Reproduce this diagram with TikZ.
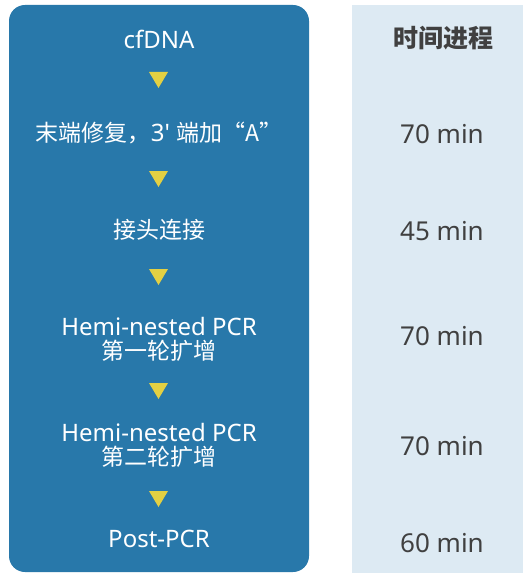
\documentclass[tikz,border=0pt]{standalone}
\usepackage{fontspec}
\setmainfont{Noto Sans}
\newfontfamily\cjk{Noto Sans CJK SC}
\definecolor{stepblue}{HTML}{2878AA}
\definecolor{panelblue}{HTML}{DDEAF3}
\definecolor{arrowyellow}{HTML}{E3D043}
\definecolor{timegray}{HTML}{404040}
\begin{document}
\begin{tikzpicture}[x=1bp,y=-1bp,
  stepbox/.style={text=white,font=\fontsize{24bp}{25bp}\selectfont,align=center,inner sep=0pt},
  cjkstep/.style={text=white,font=\fontsize{23bp}{25bp}\selectfont\cjk,align=center,inner sep=0pt},
  timebox/.style={text=timegray,font=\fontsize{26bp}{28bp}\selectfont,inner sep=0pt},
  headbox/.style={text=timegray,font=\fontsize{25bp}{28bp}\selectfont\cjk\bfseries,inner sep=0pt},
  tri/.style={fill=arrowyellow,draw=none}]
\useasboundingbox (0,0) rectangle (523,573);
\fill[stepblue,rounded corners=16bp] (9,5) rectangle (309,572);
\fill[panelblue] (352,5) rectangle (523,573);
% steps
\node[stepbox] (s1) at (159,39) {cfDNA};
\node[stepbox] (s2) at (159,133) {{\cjk\fontsize{23bp}{25bp}\selectfont 末端修复，}3\textquotesingle{} {\cjk\fontsize{23bp}{25bp}\selectfont 端加“A”}};
\node[cjkstep] (s3) at (159,230) {接头连接};
\node[stepbox] (s4a) at (159,326) {Hemi-nested PCR};
\node[cjkstep] (s4b) at (159,351) {第一轮扩增};
\node[stepbox] (s5a) at (159,432) {Hemi-nested PCR};
\node[cjkstep] (s5b) at (159,457) {第二轮扩增};
\node[stepbox] (s6) at (159,539) {Post-PCR};
% arrows
\foreach \c in {80,179,277,391,499}{
  \fill[tri] (149,\c-8) -- (168,\c-8) -- (158.5,\c+8) -- cycle;
}
% times
\node[headbox] (h) at (443,38) {时间进程};
\node[timebox] (t2) at (442,134) {70 min};
\node[timebox] (t3) at (442,231) {45 min};
\node[timebox] (t4) at (442,336) {70 min};
\node[timebox] (t5) at (442,446) {70 min};
\node[timebox] (t6) at (442,543) {60 min};
\end{tikzpicture}
\end{document}
